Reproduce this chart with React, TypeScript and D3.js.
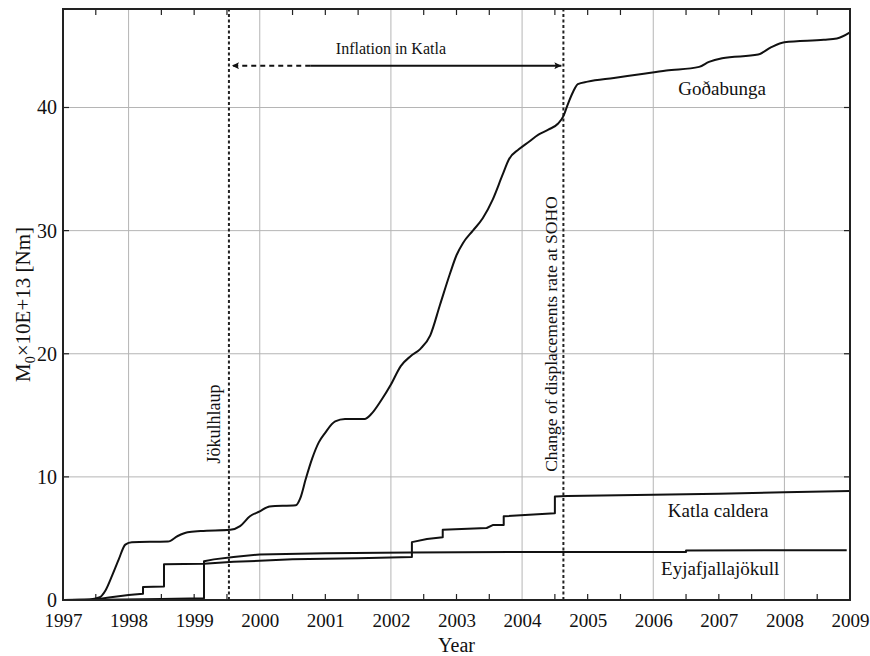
import React, { useRef, useEffect } from "react";
import * as d3 from "d3";

// tick labels
const yearTicks = [1997, 1998, 1999, 2000, 2001, 2002, 2003, 2004, 2005, 2006, 2007, 2008, 2009];
const gridYears = [1998, 2000, 2002, 2004, 2006, 2008];
const valueTicks = [0, 10, 20, 30, 40];

// cumulative moment: [year, value]
const godabunga: [number, number][] = [
  [1997.0, 0], [1997.4, 0.05], [1997.55, 0.2], [1997.65, 0.8], [1997.75, 2.0], [1997.85, 3.3],
  [1997.95, 4.5], [1998.05, 4.7], [1998.6, 4.75], [1998.75, 5.2], [1998.9, 5.5], [1999.1, 5.6],
  [1999.55, 5.7], [1999.7, 6.0], [1999.85, 6.8], [2000.0, 7.2], [2000.15, 7.6], [2000.55, 7.7],
  [2000.62, 8.3], [2000.7, 9.8], [2000.8, 11.5], [2000.9, 12.8], [2001.0, 13.6], [2001.15, 14.5],
  [2001.3, 14.7], [2001.6, 14.7], [2001.7, 15.1], [2001.85, 16.2], [2002.0, 17.5], [2002.15, 19.0],
  [2002.3, 19.8], [2002.45, 20.4], [2002.6, 21.5], [2002.75, 24.0], [2002.9, 26.5], [2003.0, 28.0],
  [2003.1, 29.0], [2003.25, 30.0], [2003.4, 31.0], [2003.55, 32.5], [2003.7, 34.5], [2003.8, 35.8],
  [2003.95, 36.6], [2004.1, 37.2], [2004.25, 37.8], [2004.4, 38.2], [2004.55, 38.7], [2004.63, 39.3],
  [2004.7, 40.3], [2004.78, 41.3], [2004.85, 41.9], [2005.0, 42.1], [2005.4, 42.4], [2005.8, 42.7],
  [2006.2, 43.0], [2006.7, 43.3], [2006.85, 43.7], [2007.05, 44.0], [2007.6, 44.3], [2007.8, 44.9],
  [2008.0, 45.3], [2008.6, 45.5], [2008.8, 45.6], [2009.0, 46.1],
];

const katla: [number, number][] = [
  [1997.0, 0], [1997.5, 0.05], [1997.7, 0.2], [1998.0, 0.4], [1998.22, 0.5], [1998.22, 1.05],
  [1998.54, 1.1], [1998.54, 2.9], [1999.15, 2.95], [1999.6, 3.1], [2000.5, 3.3], [2001.5, 3.4],
  [2002.32, 3.5], [2002.32, 4.7], [2002.55, 4.95], [2002.79, 5.1], [2002.79, 5.7], [2003.46, 5.85],
  [2003.56, 6.1], [2003.72, 6.1], [2003.72, 6.8], [2004.5, 7.05], [2004.5, 8.4], [2004.69, 8.45],
  [2006.0, 8.55], [2007.0, 8.62], [2008.0, 8.75], [2009.0, 8.86],
];

const eyjafjallajokull: [number, number][] = [
  [1997.0, 0], [1997.6, 0.02], [1998.5, 0.08], [1999.15, 0.14], [1999.15, 3.15], [1999.3, 3.3],
  [1999.6, 3.5], [2000.0, 3.7], [2001.0, 3.8], [2002.3, 3.85], [2004.0, 3.9], [2006.5, 3.9],
  [2006.5, 4.02], [2008.95, 4.05],
];

const events = [
  { year: 1999.53, label: "Jökulhlaup" },
  { year: 2004.63, label: "Change of displacements rate at SOHO" },
];

const W = 870;
const H = 656;
const font = "'Liberation Serif', 'DejaVu Serif', serif";

function MomentChart() {
  const svgRef = useRef<SVGSVGElement>(null);

  useEffect(() => {
    const svg = d3.select(svgRef.current);
    svg.selectAll("*").remove();

    const x = d3.scaleLinear().domain([1997, 2009]).range([63, 850]);
    const y = d3.scaleLinear().domain([0, 48]).range([600, 9]);
    const [x0, x1] = x.range();
    const [y0, y1] = y.range();

    svg.append("defs").append("marker")
      .attr("id", "head")
      .attr("viewBox", "0 0 10 10")
      .attr("refX", 10).attr("refY", 5)
      .attr("markerWidth", 10).attr("markerHeight", 7)
      .attr("markerUnits", "userSpaceOnUse")
      .attr("orient", "auto-start-reverse")
      .append("path").attr("d", "M0,0 L10,5 L0,10 L2,5 Z").attr("fill", "#111");

    // grid
    svg.append("g").selectAll("line").data(gridYears).join("line")
      .attr("x1", (d) => x(d)).attr("x2", (d) => x(d))
      .attr("y1", y0).attr("y2", y1)
      .attr("stroke", "#b5b5b5").attr("stroke-width", 1);
    svg.append("g").selectAll("line").data(valueTicks.slice(1)).join("line")
      .attr("x1", x0).attr("x2", x1)
      .attr("y1", (d) => y(d)).attr("y2", (d) => y(d))
      .attr("stroke", "#b5b5b5").attr("stroke-width", 1);

    // inward ticks
    const halfYears = d3.range(1997.5, 2009, 0.5).filter((d) => !gridYears.includes(d));
    const tk = svg.append("g").attr("stroke", "#222").attr("stroke-width", 1.2);
    tk.selectAll(".tb").data(halfYears).join("line").attr("class", "tb")
      .attr("x1", (d) => x(d)).attr("x2", (d) => x(d)).attr("y1", y0).attr("y2", y0 - 6);
    tk.selectAll(".tt").data(halfYears).join("line").attr("class", "tt")
      .attr("x1", (d) => x(d)).attr("x2", (d) => x(d)).attr("y1", y1).attr("y2", y1 + 6);
    tk.selectAll(".tl").data(valueTicks.slice(1)).join("line").attr("class", "tl")
      .attr("x1", x0).attr("x2", x0 + 6).attr("y1", (d) => y(d)).attr("y2", (d) => y(d));
    tk.selectAll(".tr").data(valueTicks.slice(1)).join("line").attr("class", "tr")
      .attr("x1", x1).attr("x2", x1 - 6).attr("y1", (d) => y(d)).attr("y2", (d) => y(d));

    // axes labels
    const xAxis = d3.axisBottom(x).tickValues(yearTicks).tickFormat(d3.format("d")).tickSize(0).tickPadding(14);
    const gx = svg.append("g").attr("transform", `translate(0,${y0})`).call(xAxis);
    gx.select(".domain").remove();
    gx.selectAll("text").attr("font-family", font).attr("font-size", 19).attr("fill", "#111");

    const yAxis = d3.axisLeft(y).tickValues(valueTicks).tickSize(0).tickPadding(6);
    const gy = svg.append("g").attr("transform", `translate(${x0},0)`).call(yAxis);
    gy.select(".domain").remove();
    gy.selectAll("text").attr("font-family", font).attr("font-size", 20).attr("fill", "#111");

    // event lines
    svg.append("g").selectAll("line").data(events).join("line")
      .attr("x1", (d) => x(d.year)).attr("x2", (d) => x(d.year))
      .attr("y1", y0).attr("y2", y1)
      .attr("stroke", "#222").attr("stroke-width", 2).attr("stroke-dasharray", "3,2.5");

    svg.append("text").text(events[0].label)
      .attr("transform", `translate(${x(events[0].year) - 9},${y(14.3)}) rotate(-90)`)
      .attr("text-anchor", "middle").attr("font-family", font).attr("font-size", 18).attr("fill", "#111");
    svg.append("text").text(events[1].label)
      .attr("transform", `translate(${x(events[1].year) - 6},${y(21.6)}) rotate(-90)`)
      .attr("text-anchor", "middle").attr("font-family", font).attr("font-size", 17.5).attr("fill", "#111");

    // inflation arrow
    const ay = y(43.4);
    const xs = x(events[0].year) + 3;
    const xm = x(2000.77);
    const xe = x(events[1].year) - 2;
    svg.append("line").attr("x1", xm).attr("x2", xs).attr("y1", ay).attr("y2", ay)
      .attr("stroke", "#111").attr("stroke-width", 2).attr("stroke-dasharray", "5,4")
      .attr("marker-end", "url(#head)");
    svg.append("line").attr("x1", xm).attr("x2", xe).attr("y1", ay).attr("y2", ay)
      .attr("stroke", "#111").attr("stroke-width", 2)
      .attr("marker-end", "url(#head)");
    svg.append("text").text("Inflation in Katla")
      .attr("x", x(2002.0)).attr("y", ay - 12)
      .attr("text-anchor", "middle").attr("font-family", font).attr("font-size", 16).attr("fill", "#111");

    // series
    const smooth = d3.line<[number, number]>().x((d) => x(d[0])).y((d) => y(d[1])).curve(d3.curveMonotoneX);
    const step = d3.line<[number, number]>().x((d) => x(d[0])).y((d) => y(d[1]));
    const series = [
      { pts: godabunga, gen: smooth },
      { pts: katla, gen: step },
      { pts: eyjafjallajokull, gen: step },
    ];
    svg.append("g").selectAll("path").data(series).join("path")
      .attr("d", (d) => d.gen(d.pts))
      .attr("fill", "none").attr("stroke", "#111").attr("stroke-width", 2)
      .attr("stroke-linejoin", "round");

    const labels = [
      { t: "Goðabunga", yr: 2007.05, v: 41.05 },
      { t: "Katla caldera", yr: 2006.99, v: 6.75 },
      { t: "Eyjafjallajökull", yr: 2007.02, v: 2.03 },
    ];
    svg.append("g").selectAll("text").data(labels).join("text")
      .text((d) => d.t).attr("x", (d) => x(d.yr)).attr("y", (d) => y(d.v))
      .attr("text-anchor", "middle").attr("font-family", font).attr("font-size", 19).attr("fill", "#111");

    // frame
    svg.append("rect").attr("x", x0).attr("y", y1).attr("width", x1 - x0).attr("height", y0 - y1)
      .attr("fill", "none").attr("stroke", "#222").attr("stroke-width", 2);

    // axis titles
    svg.append("text").text("Year").attr("x", x(2003)).attr("y", 652)
      .attr("text-anchor", "middle").attr("font-family", font).attr("font-size", 20).attr("fill", "#111");
    const yl = svg.append("text")
      .attr("transform", `translate(30,${y(24)}) rotate(-90)`)
      .attr("text-anchor", "middle").attr("font-family", font).attr("font-size", 21).attr("fill", "#111");
    yl.append("tspan").text("M");
    yl.append("tspan").text("0").attr("font-size", 14).attr("dy", 5);
    yl.append("tspan").text("×10E+13 [Nm]").attr("dy", -5);
  }, []);

  return <svg ref={svgRef} width={W} height={H} style={{ position: "absolute", left: 0, top: 0, background: "#fff" }} />;
}

export default function App() {
  return <MomentChart />;
}
